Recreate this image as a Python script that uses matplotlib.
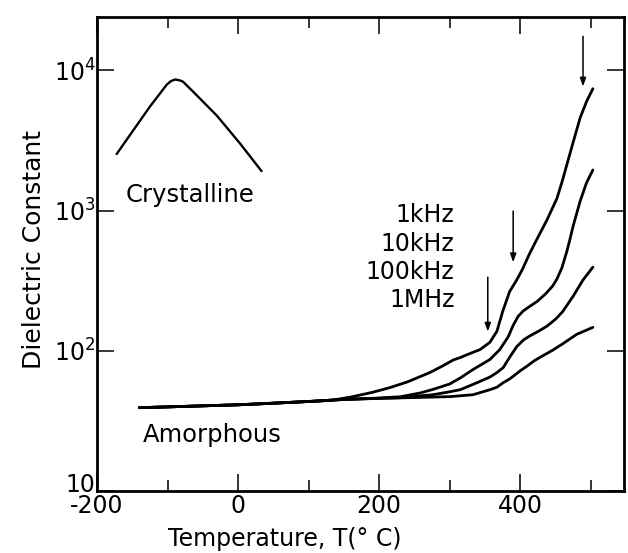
import matplotlib
matplotlib.use("Agg")
import matplotlib.pyplot as plt
import matplotlib.transforms as mtrans

plt.rcParams['font.family'] = ['DejaVu Sans']
plt.rcParams['mathtext.default'] = 'regular'
plt.rcParams['axes.unicode_minus'] = False

# shared amorphous baseline (T in C, dielectric constant)
t_base = [-140, -100, -50, 0, 50, 100]
e_base = [39.3, 39.8, 40.5, 41.2, 42.3, 43.5]

t_1k = [130, 160, 190, 215, 240, 272, 290, 305, 315, 325, 343, 357, 367, 375, 385, 395, 403, 413, 424,
        438, 452, 460, 468, 476, 485, 494, 503]
e_1k = [44.2, 46.8, 50.5, 54.6, 60, 70, 78, 86, 89.5, 94, 102, 115, 138, 190, 265, 320, 380, 490, 630,
        860, 1220, 1650, 2300, 3200, 4600, 6000, 7400]

t_10k = [150, 190, 230, 258, 276, 300, 315, 333, 357, 371, 383, 390, 397, 404, 412, 424, 436, 446, 452,
         459, 466, 470, 475, 485, 494, 503]
e_10k = [45.0, 45.8, 47, 50, 53, 58, 64, 73.5, 86.7, 102, 126, 152, 176, 192, 205, 225, 255, 290, 325,
         390, 510, 610, 776, 1170, 1580, 1950]

t_100k = [150, 200, 230, 276, 300, 315, 339, 357, 367, 376, 385, 395, 405, 414, 426, 438, 450, 460, 475,
          489, 503]
e_100k = [45.0, 45.8, 46.3, 48.6, 51, 52.8, 59.3, 65, 70, 76, 90, 107, 120, 128, 138, 150, 168, 190, 245,
          320, 395]

t_1M = [150, 200, 250, 300, 333, 357, 367, 376, 385, 392, 400, 410, 420, 430, 446, 460, 480, 503]
e_1M = [45.0, 45.8, 46.4, 47.1, 48.6, 52.8, 55, 59.3, 63, 67, 72, 78, 85, 91, 101, 112, 131, 147]

t_cryst = [-172, -149, -125, -101, -95, -89, -83, -78, -64, -30, 3, 33]
e_cryst = [2540, 3715, 5520, 7930, 8400, 8610, 8500, 8300, 7070, 4750, 3000, 1920]

freq_labels = ['1kHz', '10kHz', '100kHz', '1MHz']
freq_label_y = [828, 514, 324, 204]

# arrows: x position, start value, end value
arrow_x = [489, 390, 354]
arrow_y0 = [17500, 993, 335]
arrow_y1 = [7670, 428, 137]

fig = plt.figure(figsize=(6.28, 5.53), dpi=100)
ax = fig.add_axes([0.1545, 0.1121, 0.839, 0.857])

for tt, ee in [(t_1k, e_1k), (t_10k, e_10k), (t_100k, e_100k), (t_1M, e_1M)]:
    ax.plot(t_base + tt, e_base + ee, color='black', lw=2.0, solid_capstyle='round', solid_joinstyle='round')
ax.plot(t_cryst, e_cryst, color='black', lw=1.7, solid_joinstyle='round')

for xa, y0, y1 in zip(arrow_x, arrow_y0, arrow_y1):
    ax.annotate('', xy=(xa, y1), xytext=(xa, y0),
                arrowprops=dict(arrowstyle='-|>,head_length=0.5,head_width=0.18', color='black', lw=1.1,
                                shrinkA=0, shrinkB=0))

for lab, yy in zip(freq_labels, freq_label_y):
    ax.text(307, yy, lab, fontsize=17, ha='right', va='baseline')
ax.text(-160, 1150, 'Crystalline', fontsize=17.5, ha='left', va='baseline')
ax.text(-135, 22.4, 'Amorphous', fontsize=17.5, ha='left', va='baseline')

ax.set_yscale('log')
ax.set_xlim(-200, 547)
ax.set_ylim(10, 2.4e4)
ax.set_xticks([-200, 0, 200, 400])
ax.set_xticklabels(['-200', '0', '200', '400'])
ax.set_xticks([-100, 100, 300, 500], minor=True)
ax.set_yticks([10, 100, 1000, 10000])
ax.set_yticklabels(['10', '$10^{2}$', '$10^{3}$', '$10^{4}$'])
ax.yaxis.set_minor_locator(matplotlib.ticker.NullLocator())

ax.tick_params(which='both', direction='in', top=True, right=True, width=1.1, labelsize=17)
ax.tick_params(which='major', length=12)
ax.tick_params(which='minor', length=8)
ax.tick_params(axis='x', pad=2)
ax.tick_params(axis='y', pad=1)
for s in ax.spines.values():
    s.set_linewidth(2.0)

# lift the bottom "10" label clear of "-200"
lab10 = ax.get_yticklabels()[0]
lab10.set_transform(lab10.get_transform() + mtrans.ScaledTranslation(0, 0.09, fig.dpi_scale_trans))

ax.set_xlabel('Temperature, T(° C)', fontsize=17)
ax.xaxis.set_label_coords(0.357, -0.076)
ax.set_ylabel('Dielectric Constant', fontsize=18)
ax.yaxis.set_label_coords(-0.097, 0.51)

fig.savefig('out.png', dpi=100)
